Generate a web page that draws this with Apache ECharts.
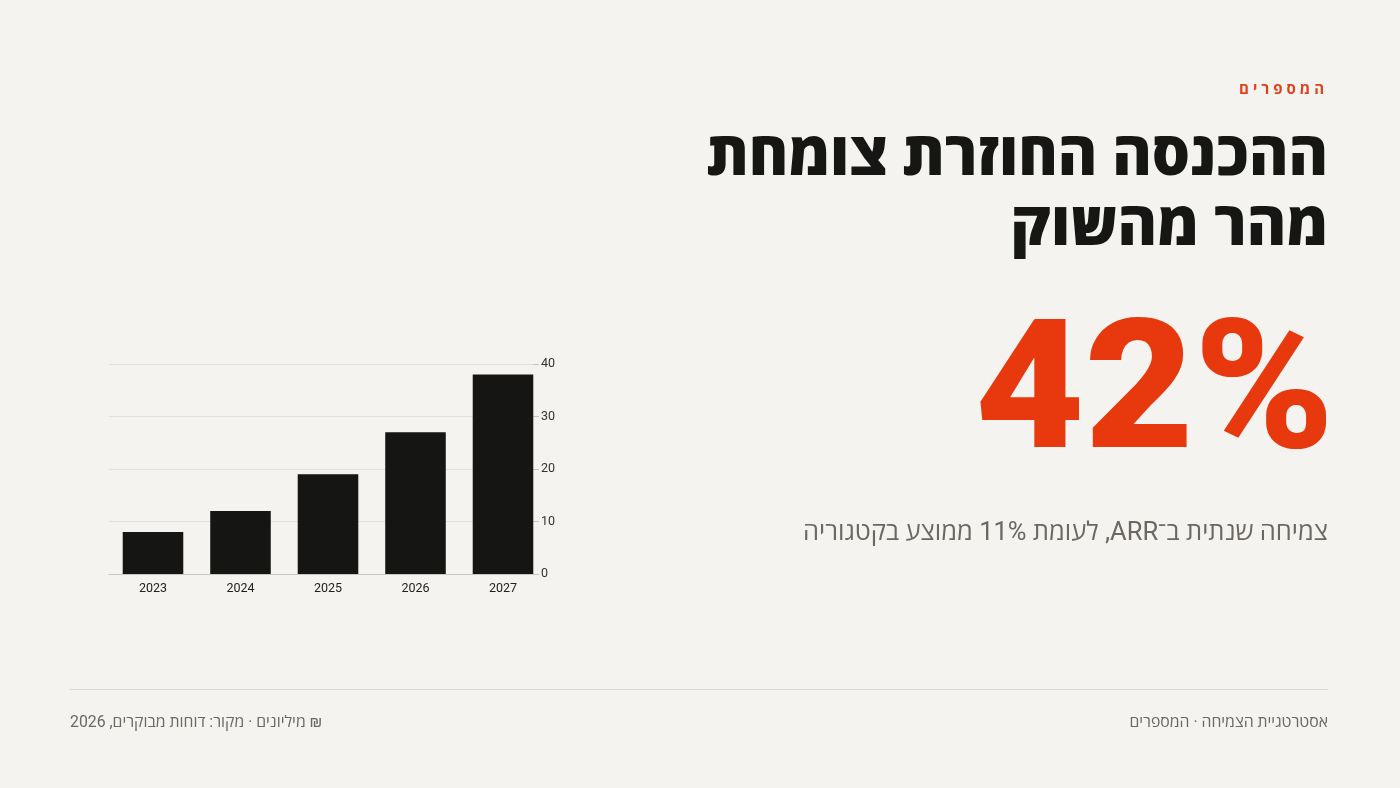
<!DOCTYPE html>
<html lang="he">
<head>
<meta charset="utf-8">
<script src="https://cdn.jsdelivr.net/npm/echarts@6/dist/echarts.min.js"></script>
<style>
  html,body{margin:0;padding:0;width:1400px;height:788px;background:#f5f3ef;overflow:hidden;}
  #chart{position:absolute;left:0;top:0;width:1400px;height:788px;}
  .t{position:absolute;direction:rtl;text-align:right;white-space:nowrap;font-family:Roboto,"Open Sans","Liberation Sans","DejaVu Sans",sans-serif;}
  #kicker{right:72px;top:78px;font-size:15px;font-weight:700;letter-spacing:4px;color:#e0401a;}
  #title{right:72px;top:120px;font-size:60px;line-height:70px;font-weight:800;color:#161614;}
  #big{right:66px;top:286px;font-size:180px;line-height:200px;font-weight:900;color:#e8390e;letter-spacing:0px;font-family:Roboto,"Open Sans",sans-serif;transform:scaleX(1.05);transform-origin:100% 50%;direction:ltr;}
  #sub{right:72px;top:513px;font-size:25.5px;color:#6b6864;}
  #rule{position:absolute;left:70px;width:1258px;top:689px;height:1px;background:#dcd9d3;}
  #fr{right:72px;top:710px;font-size:15.8px;color:#6b6864;}
  #fl{left:70px;top:710px;font-size:15.8px;color:#6b6864;}
</style>
</head>
<body>
<div id="chart"></div>
<div class="t" id="kicker">המספרים</div>
<div class="t" id="title">ההכנסה החוזרת צומחת<br>מהר מהשוק</div>
<div class="t" id="big">42%</div>
<div class="t" id="sub">צמיחה שנתית ב־ARR, לעומת 11% ממוצע בקטגוריה</div>
<div id="rule"></div>
<div class="t" id="fr">אסטרטגיית הצמיחה · המספרים</div>
<div class="t" id="fl">₪ מיליונים · מקור: דוחות מבוקרים, 2026</div>
<script>
const years = ['2023','2024','2025','2026','2027'];
const arr = [8, 12, 19, 27, 38];
const yMin = 0, yMax = 40, yStep = 10;

const chart = echarts.init(document.getElementById('chart'), null, {renderer:'canvas'});
chart.setOption({
  animation:false,
  backgroundColor:'transparent',
  grid:[
    {left:109.25, top:364, width:437.5, height:210},
    {left:109, top:364, width:424, height:210}
  ],
  xAxis:[
    {
      gridIndex:0, type:'category', data:years,
      axisLine:{show:false}, axisTick:{show:false},
      axisLabel:{color:'#222', fontSize:12.5, fontFamily:'Roboto', margin:8}
    },
    {
      gridIndex:1, type:'category', data:years,
      axisLine:{show:true, lineStyle:{color:'#c9c6c0', width:1}},
      axisTick:{show:false}, axisLabel:{show:false}
    }
  ],
  yAxis:[
    {gridIndex:0, type:'value', min:yMin, max:yMax, interval:yStep, show:false, splitLine:{show:false}},
    {
      gridIndex:1, type:'value', position:'right', min:yMin, max:yMax, interval:yStep,
      axisLine:{show:false},
      axisTick:{show:true, length:6, lineStyle:{color:'#c9c6c0'}},
      axisLabel:{color:'#333', fontSize:12.5, fontFamily:'Roboto', margin:8},
      splitLine:{lineStyle:{color:'#e3e0db', width:1}}
    }
  ],
  series:[{
    type:'bar', data:arr, xAxisIndex:0, yAxisIndex:0, barCategoryGap:'30.8%',
    itemStyle:{color:'#151513'}
  }]
});
</script>
</body>
</html>
